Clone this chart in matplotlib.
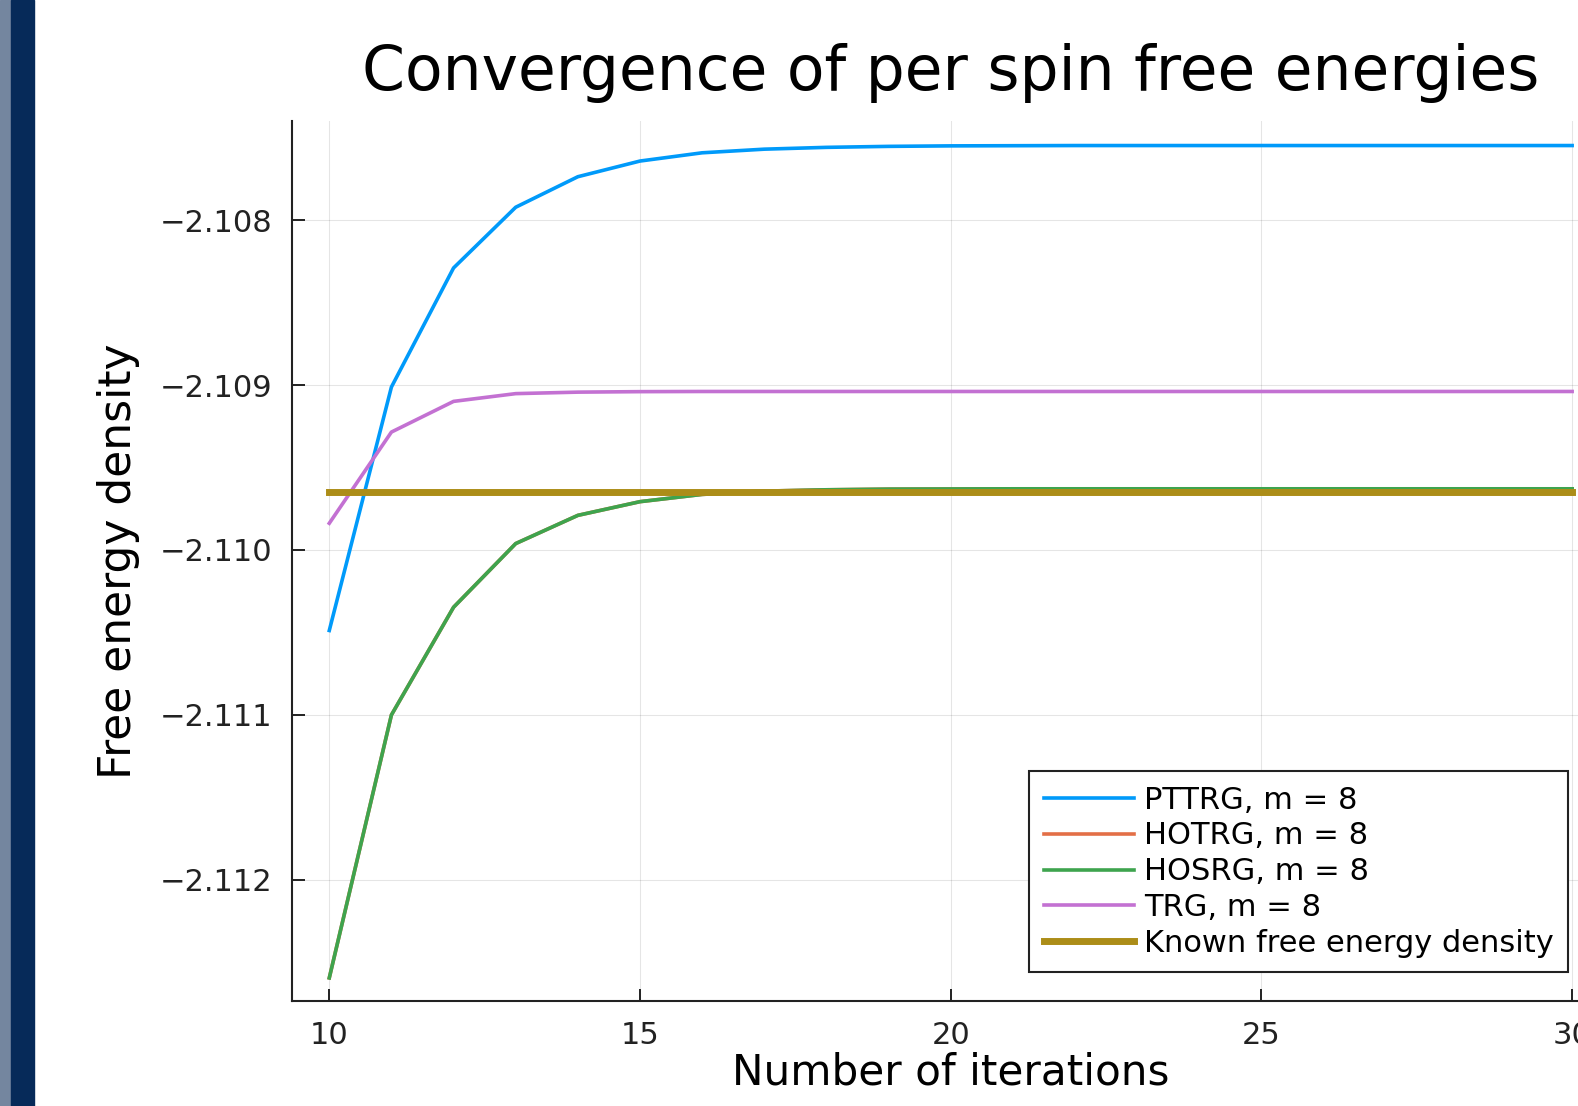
import numpy as np
import matplotlib
matplotlib.use('Agg')
import matplotlib.pyplot as plt
from matplotlib.patches import Rectangle

iterations = list(range(10, 31))

pttrg = [-2.110488, -2.109012, -2.108290, -2.107922, -2.107737, -2.107642,
         -2.107592, -2.107570, -2.107559, -2.107553, -2.107550, -2.107549,
         -2.107548, -2.107548, -2.107548, -2.107548, -2.107548, -2.107548,
         -2.107548, -2.107548, -2.107548]
hosrg = [-2.112594, -2.111000, -2.110347, -2.109961, -2.109790, -2.109707,
         -2.109663, -2.109643, -2.109635, -2.109631, -2.109630, -2.109629,
         -2.109629, -2.109629, -2.109629, -2.109629, -2.109629, -2.109629,
         -2.109629, -2.109629, -2.109629]
hotrg = list(hosrg)
trg = [-2.109838, -2.109285, -2.109099, -2.109052, -2.109043, -2.109040,
       -2.109039, -2.109039, -2.109039, -2.109039, -2.109039, -2.109039,
       -2.109039, -2.109039, -2.109039, -2.109039, -2.109039, -2.109039,
       -2.109039, -2.109039, -2.109039]
known = [-2.109651] * len(iterations)

xtick_vals = [10, 15, 20, 25, 30]
ytick_vals = [-2.112, -2.111, -2.110, -2.109, -2.108]
ytick_labels = ['\u22122.112', '\u22122.111', '\u22122.110', '\u22122.109', '\u22122.108']

W, H = 1578, 1106
fig = plt.figure(figsize=(W / 100, H / 100), dpi=100)

# strip on the left edge
fig.patches.append(Rectangle((0, 0), 11 / W, 1, transform=fig.transFigure,
                             color='#74869f', zorder=0))
fig.patches.append(Rectangle((11 / W, 0), 23 / W, 1, transform=fig.transFigure,
                             color='#062a59', zorder=0))

# the plot area runs past the right edge of the picture (it was cropped)
ax = fig.add_axes([292 / W, 104.7 / H, (1609.4 - 292) / W, (1001.3 - 120.8) / H])

ax.plot(iterations, pttrg, color='#009afa', lw=2.6, label='PTTRG, m = 8')
ax.plot(iterations, hotrg, color='#e36f47', lw=2.6, label='HOTRG, m = 8')
ax.plot(iterations, hosrg, color='#3ea44e', lw=2.6, label='HOSRG, m = 8')
ax.plot(iterations, trg, color='#c371d2', lw=2.6, label='TRG, m = 8')
ax.plot(iterations, known, color='#ac8d18', lw=5, label='Known free energy density')

ax.set_xlim(9.4, 30.6)
ax.set_ylim(-2.112736, -2.107398)
ax.set_xticks(xtick_vals)
ax.set_yticks(ytick_vals)
ax.set_yticklabels(ytick_labels)

for s in ['top', 'right']:
    ax.spines[s].set_visible(False)
for s in ['left', 'bottom']:
    ax.spines[s].set_linewidth(1.5)
    ax.spines[s].set_color('#222222')

ax.tick_params(direction='in', length=9, width=1.4, labelsize=22, pad=14,
               colors='#222222')
ax.grid(True, color='black', alpha=0.1, lw=0.8)

ax.set_title('Convergence of per spin free energies', fontsize=44.3, pad=22)
ax.set_xlabel('Number of iterations', fontsize=30.3, labelpad=1)
ax.set_ylabel('Free energy density', fontsize=31.7, labelpad=14)

leg = ax.legend(loc='lower right', bbox_to_anchor=(1568 / W, (H - 972) / H),
                bbox_transform=fig.transFigure, borderaxespad=0,
                fontsize=22, fancybox=False, framealpha=1, edgecolor='#222222',
                handlelength=2.95, handletextpad=0.33, labelspacing=0.22,
                borderpad=0.47)
leg.get_frame().set_linewidth(1.5)

fig.savefig('out.png', dpi=100)
